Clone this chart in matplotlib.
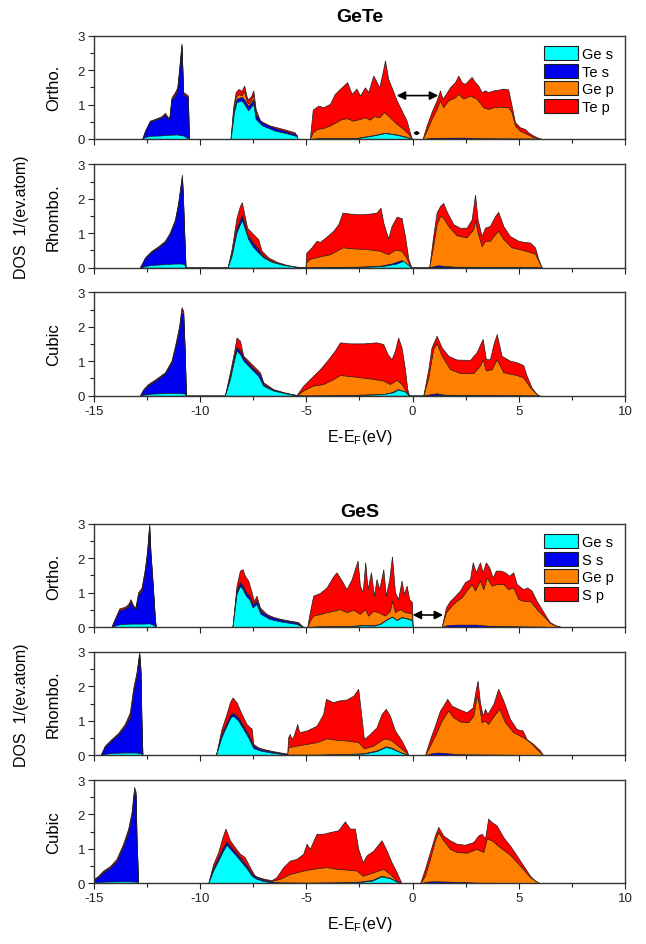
import matplotlib
matplotlib.use("Agg")
import matplotlib.pyplot as plt
import numpy as np
from matplotlib.patches import Patch
from matplotlib.ticker import MultipleLocator

plt.rcParams['font.family'] = ['Liberation Sans', 'DejaVu Sans']
plt.rcParams['mathtext.fontset'] = 'custom'
plt.rcParams['mathtext.rm'] = 'Liberation Sans'
plt.rcParams['axes.unicode_minus'] = False

# Stacked DOS: each list is (E, level) of the top edge of
# a layer, i.e. Ge s, Ge s+X s, Ge s+X s+Ge p, and the total with X p.

# ---- GeTe, orthorhombic ----
gete_ortho_ges = [(-12.73, 0), (-12.6, 0.06), (-12.37, 0.09), (-11.9, 0.1), (-11.5, 0.12), (-11.1, 0.13), (-10.8, 0.1), (-10.53, 0),
                  (-8.57, 0), (-8.41, 0.78), (-8.29, 1.07), (-8.05, 1.12), (-7.93, 1.02), (-7.74, 0.83), (-7.5, 1.02), (-7.39, 0.58),
                  (-7.08, 0.39), (-6.47, 0.24), (-5.84, 0.15), (-5.45, 0.08), (-5.42, 0),
                  (-4.84, 0), (-4.5, 0.01), (-2.64, 0.02), (-1.85, 0.1), (-1.3, 0.17), (-0.75, 0.12), (-0.28, 0.05), (-0.03, 0),
                  (0.47, 0), (1.0, 0.01), (5.5, 0.01), (6.08, 0)]
gete_ortho_tes = [(-12.73, 0), (-12.6, 0.21), (-12.37, 0.5), (-12.06, 0.57), (-11.82, 0.62), (-11.66, 0.71), (-11.55, 0.62), (-11.46, 0.55),
                  (-11.35, 1.14), (-11.19, 1.26), (-11.08, 1.4), (-10.99, 1.95), (-10.88, 2.7), (-10.8, 1.29), (-10.67, 1.24), (-10.58, 1.2), (-10.53, 0),
                  (-8.57, 0), (-8.41, 0.85), (-8.29, 1.17), (-8.05, 1.22), (-7.93, 1.15), (-7.74, 0.95), (-7.5, 1.15), (-7.39, 0.7),
                  (-7.08, 0.47), (-6.47, 0.31), (-5.84, 0.2), (-5.45, 0.12), (-5.42, 0),
                  (-4.84, 0), (-4.5, 0.02), (-2.64, 0.03), (-1.85, 0.11), (-1.3, 0.18), (-0.75, 0.13), (-0.28, 0.06), (-0.03, 0),
                  (0.47, 0), (0.9, 0.03), (2.4, 0.04), (3.1, 0.02), (5.5, 0.01), (6.08, 0)]
gete_ortho_gep = [(-12.73, 0), (-12.6, 0.22), (-12.37, 0.51), (-12.06, 0.58), (-11.82, 0.63), (-11.66, 0.72), (-11.55, 0.63), (-11.46, 0.56),
                  (-11.35, 1.17), (-11.19, 1.3), (-11.08, 1.44), (-10.99, 1.98), (-10.88, 2.72), (-10.8, 1.32), (-10.67, 1.27), (-10.58, 1.22), (-10.53, 0),
                  (-8.57, 0), (-8.45, 0.8), (-8.33, 1.22), (-8.2, 1.3), (-8.05, 1.27), (-7.93, 1.38), (-7.8, 1.08), (-7.74, 1.03),
                  (-7.6, 1.14), (-7.5, 1.28), (-7.39, 0.8), (-7.18, 0.47), (-6.72, 0.34), (-6.09, 0.24), (-5.54, 0.15), (-5.42, 0),
                  (-4.84, 0), (-4.7, 0.19), (-4.5, 0.29), (-4.21, 0.32), (-3.89, 0.39), (-3.6, 0.49), (-3.34, 0.58), (-3.08, 0.6),
                  (-2.82, 0.53), (-2.48, 0.58), (-2.24, 0.63), (-2.01, 0.56), (-1.82, 0.66), (-1.57, 0.63), (-1.35, 0.78), (-1.19, 0.7),
                  (-0.99, 0.58), (-0.75, 0.44), (-0.44, 0.29), (-0.2, 0.15), (-0.03, 0),
                  (0.47, 0), (0.66, 0.24), (0.89, 0.58), (1.13, 0.87), (1.29, 1.12), (1.44, 0.92), (1.68, 1.12), (2.0, 1.21),
                  (2.15, 1.31), (2.39, 1.17), (2.7, 1.26), (3.01, 1.17), (3.33, 0.92), (3.56, 0.87), (3.8, 0.92), (4.11, 0.94),
                  (4.5, 0.92), (4.66, 0.78), (4.82, 0.39), (5.05, 0.24), (5.37, 0.15), (5.68, 0.05), (6.08, 0)]
gete_ortho_tep = [(-12.73, 0), (-12.6, 0.24), (-12.37, 0.53), (-12.06, 0.6), (-11.82, 0.66), (-11.66, 0.76), (-11.55, 0.66), (-11.46, 0.58),
                  (-11.35, 1.21), (-11.19, 1.36), (-11.08, 1.5), (-10.99, 2.04), (-10.88, 2.77), (-10.8, 1.36), (-10.67, 1.31), (-10.58, 1.26), (-10.53, 0),
                  (-8.57, 0), (-8.45, 0.9), (-8.33, 1.36), (-8.2, 1.45), (-8.05, 1.4), (-7.93, 1.55), (-7.8, 1.2), (-7.74, 1.15),
                  (-7.6, 1.25), (-7.5, 1.41), (-7.39, 0.87), (-7.18, 0.53), (-6.72, 0.39), (-6.09, 0.29), (-5.54, 0.19), (-5.42, 0),
                  (-4.84, 0), (-4.7, 0.85), (-4.44, 0.97), (-4.21, 0.92), (-3.89, 1.02), (-3.66, 1.31), (-3.5, 1.41), (-3.34, 1.5),
                  (-3.08, 1.65), (-2.87, 1.31), (-2.64, 1.46), (-2.48, 1.26), (-2.24, 1.5), (-2.09, 1.36), (-1.85, 1.84), (-1.73, 1.7),
                  (-1.57, 1.5), (-1.41, 1.94), (-1.3, 2.28), (-1.15, 1.75), (-0.99, 1.5), (-0.75, 1.12), (-0.52, 0.83), (-0.28, 0.53),
                  (-0.13, 0.19), (-0.03, 0),
                  (0.47, 0), (0.66, 0.39), (0.89, 0.78), (1.13, 1.12), (1.29, 1.41), (1.41, 1.17), (1.57, 1.31), (1.76, 1.5),
                  (2.0, 1.65), (2.15, 1.84), (2.31, 1.65), (2.46, 1.6), (2.62, 1.7), (2.78, 1.8), (2.94, 1.65), (3.09, 1.55),
                  (3.25, 1.36), (3.41, 1.41), (3.56, 1.36), (3.8, 1.41), (4.03, 1.43), (4.27, 1.46), (4.5, 1.44), (4.66, 0.97),
                  (4.82, 0.49), (5.05, 0.34), (5.29, 0.29), (5.45, 0.19), (5.68, 0.1), (5.92, 0.03), (6.08, 0)]

# ---- GeTe, rhombohedral ----
gete_rhombo_ges = [(-12.84, 0), (-12.6, 0.05), (-12.29, 0.08), (-11.7, 0.1), (-11.2, 0.12), (-10.9, 0.12), (-10.75, 0.1), (-10.69, 0),
                   (-8.71, 0), (-8.52, 0.35), (-8.29, 1.02), (-8.13, 1.26), (-8.04, 1.38), (-7.94, 1.21), (-7.74, 0.83), (-7.5, 0.59),
                   (-7.27, 0.44), (-7.03, 0.3), (-6.64, 0.17), (-6.09, 0.08), (-5.46, 0.02), (-5.07, 0),
                   (-5.04, 0), (-4.5, 0.01), (-2.5, 0.02), (-1.38, 0.05), (-0.75, 0.12), (-0.45, 0.2), (-0.2, 0.08), (-0.05, 0),
                   (0.78, 0), (1.2, 0.01), (5.5, 0.01), (6.08, 0)]
gete_rhombo_tes = [(-12.84, 0), (-12.6, 0.27), (-12.29, 0.46), (-11.98, 0.58), (-11.66, 0.74), (-11.43, 0.97), (-11.19, 1.33), (-11.04, 1.8),
                   (-10.93, 2.3), (-10.86, 2.62), (-10.82, 2.12), (-10.75, 0.95), (-10.69, 0),
                   (-8.71, 0), (-8.52, 0.4), (-8.29, 1.12), (-8.13, 1.37), (-8.04, 1.5), (-7.94, 1.32), (-7.79, 0.95), (-7.5, 0.69),
                   (-7.27, 0.52), (-7.11, 0.37), (-6.8, 0.22), (-6.4, 0.12), (-5.93, 0.05), (-5.46, 0.01), (-5.07, 0),
                   (-5.04, 0), (-4.5, 0.01), (-2.5, 0.03), (-1.5, 0.06), (-1.0, 0.12), (-0.52, 0.22), (-0.3, 0.12), (-0.05, 0),
                   (0.78, 0), (0.97, 0.04), (1.2, 0.07), (1.5, 0.05), (2.0, 0.03), (3.5, 0.02), (5.5, 0.01), (6.08, 0)]
gete_rhombo_gep = [(-12.84, 0), (-12.6, 0.28), (-12.29, 0.47), (-11.98, 0.6), (-11.66, 0.76), (-11.43, 0.99), (-11.19, 1.36), (-11.04, 1.83),
                   (-10.93, 2.32), (-10.86, 2.65), (-10.82, 2.15), (-10.75, 0.97), (-10.69, 0),
                   (-8.71, 0), (-8.52, 0.42), (-8.29, 1.15), (-8.13, 1.4), (-8.04, 1.53), (-7.94, 1.35), (-7.79, 0.98), (-7.5, 0.72),
                   (-7.27, 0.55), (-7.11, 0.4), (-6.8, 0.25), (-6.4, 0.14), (-5.93, 0.06), (-5.46, 0.02), (-5.07, 0),
                   (-5.04, 0), (-5.02, 0.15), (-4.85, 0.25), (-4.36, 0.33), (-3.89, 0.39), (-3.3, 0.59), (-2.8, 0.56), (-2.17, 0.54),
                   (-1.54, 0.49), (-1.15, 0.39), (-0.83, 0.52), (-0.52, 0.49), (-0.31, 0.3), (-0.13, 0.06), (-0.05, 0),
                   (0.78, 0), (0.97, 0.63), (1.13, 1.26), (1.29, 1.5), (1.44, 1.45), (1.68, 1.21), (2.07, 0.94), (2.54, 0.88),
                   (2.86, 1.12), (2.94, 1.38), (3.06, 1.02), (3.25, 0.62), (3.41, 0.78), (3.64, 0.78), (3.88, 0.97), (4.03, 1.07),
                   (4.27, 0.83), (4.66, 0.59), (5.21, 0.51), (5.76, 0.41), (5.92, 0.2), (6.08, 0)]
gete_rhombo_tep = [(-12.84, 0), (-12.6, 0.3), (-12.29, 0.49), (-11.98, 0.62), (-11.66, 0.78), (-11.43, 1.02), (-11.19, 1.4), (-11.04, 1.88),
                   (-10.93, 2.37), (-10.86, 2.7), (-10.82, 2.2), (-10.75, 1.0), (-10.69, 0),
                   (-8.71, 0), (-8.52, 0.54), (-8.29, 1.45), (-8.13, 1.79), (-8.04, 1.9), (-7.94, 1.6), (-7.79, 1.16), (-7.5, 0.97),
                   (-7.27, 0.83), (-7.11, 0.49), (-6.8, 0.3), (-6.4, 0.17), (-5.93, 0.08), (-5.46, 0.03), (-5.07, 0),
                   (-5.04, 0), (-5.02, 0.4), (-4.99, 0.44), (-4.76, 0.59), (-4.52, 0.78), (-4.36, 0.75), (-4.05, 0.9), (-3.74, 1.07),
                   (-3.5, 1.26), (-3.3, 1.6), (-2.95, 1.57), (-2.48, 1.55), (-2.01, 1.57), (-1.7, 1.6), (-1.51, 1.74), (-1.38, 1.31),
                   (-1.15, 0.85), (-0.99, 1.21), (-0.75, 1.48), (-0.52, 1.44), (-0.36, 0.92), (-0.2, 0.25), (-0.05, 0),
                   (0.78, 0), (0.97, 0.92), (1.13, 1.6), (1.29, 1.79), (1.44, 1.88), (1.63, 1.6), (1.92, 1.26), (2.23, 1.16),
                   (2.54, 1.16), (2.78, 1.4), (2.94, 2.12), (3.06, 1.4), (3.25, 0.92), (3.41, 1.16), (3.64, 1.21), (3.88, 1.5),
                   (4.03, 1.62), (4.27, 1.21), (4.58, 0.92), (4.98, 0.78), (5.21, 0.75), (5.53, 0.73), (5.76, 0.59), (5.92, 0.25), (6.08, 0)]

# ---- GeTe, cubic ----
gete_cubic_ges = [(-12.84, 0), (-12.68, 0.03), (-12.3, 0.06), (-11.5, 0.08), (-10.9, 0.08), (-10.73, 0.06), (-10.67, 0),
                  (-8.84, 0), (-8.6, 0.48), (-8.41, 1.02), (-8.29, 1.31), (-8.13, 1.21), (-7.97, 1.02), (-7.66, 0.82), (-7.27, 0.58),
                  (-7.03, 0.29), (-6.56, 0.15), (-5.93, 0.06), (-5.46, 0.01), (-5.15, 0),
                  (-3.0, 0.01), (-2.0, 0.03), (-1.38, 0.05), (-0.91, 0.1), (-0.68, 0.18), (-0.36, 0.12), (-0.16, 0),
                  (0.5, 0), (1.2, 0.01), (5.5, 0.01), (5.97, 0)]
gete_cubic_tes = [(-12.84, 0), (-12.68, 0.16), (-12.45, 0.3), (-12.06, 0.46), (-11.66, 0.64), (-11.35, 0.96), (-11.15, 1.46), (-10.99, 1.9),
                  (-10.88, 2.42), (-10.8, 2.38), (-10.73, 1.3), (-10.67, 0),
                  (-8.84, 0), (-8.6, 0.53), (-8.41, 1.1), (-8.29, 1.4), (-8.13, 1.3), (-7.97, 1.1), (-7.66, 0.88), (-7.19, 0.6),
                  (-7.03, 0.33), (-6.56, 0.16), (-5.93, 0.06), (-5.46, 0.01), (-5.15, 0),
                  (-3.5, 0.01), (-2.5, 0.03), (-1.38, 0.05), (-0.99, 0.1), (-0.68, 0.19), (-0.36, 0.12), (-0.16, 0),
                  (0.5, 0), (0.9, 0.05), (1.13, 0.07), (1.5, 0.03), (3.5, 0.01), (5.97, 0)]
gete_cubic_gep = [(-12.84, 0), (-12.68, 0.17), (-12.45, 0.32), (-12.06, 0.48), (-11.66, 0.66), (-11.35, 0.99), (-11.15, 1.5), (-10.99, 1.96),
                  (-10.88, 2.5), (-10.8, 2.42), (-10.73, 1.33), (-10.67, 0),
                  (-8.84, 0), (-8.6, 0.56), (-8.41, 1.12), (-8.29, 1.42), (-8.13, 1.32), (-7.97, 1.12), (-7.66, 0.9), (-7.19, 0.62),
                  (-7.03, 0.35), (-6.56, 0.17), (-5.93, 0.07), (-5.46, 0.02),
                  (-5.15, 0.15), (-4.7, 0.29), (-4.21, 0.34), (-3.74, 0.48), (-3.42, 0.6), (-2.79, 0.56), (-2.01, 0.5), (-1.38, 0.44),
                  (-1.07, 0.34), (-0.75, 0.46), (-0.52, 0.34), (-0.28, 0.1), (-0.16, 0),
                  (0.5, 0), (0.74, 0.53), (0.97, 1.35), (1.13, 1.53), (1.37, 1.16), (1.76, 0.77), (2.23, 0.66), (2.86, 0.66),
                  (3.17, 0.87), (3.3, 1.06), (3.45, 0.73), (3.72, 0.77), (3.96, 1.06), (4.27, 0.68), (4.9, 0.6), (5.21, 0.53),
                  (5.53, 0.24), (5.84, 0.05), (5.97, 0)]
gete_cubic_tep = [(-12.84, 0), (-12.68, 0.19), (-12.45, 0.34), (-12.06, 0.5), (-11.66, 0.68), (-11.35, 1.02), (-11.15, 1.55), (-10.99, 2.03),
                  (-10.88, 2.57), (-10.8, 2.47), (-10.73, 1.36), (-10.67, 0),
                  (-8.84, 0), (-8.6, 0.68), (-8.41, 1.26), (-8.29, 1.69), (-8.13, 1.6), (-7.97, 1.16), (-7.66, 0.97), (-7.19, 0.68),
                  (-7.03, 0.39), (-6.56, 0.19), (-5.93, 0.08), (-5.46, 0.02),
                  (-5.15, 0.29), (-4.76, 0.53), (-4.36, 0.77), (-3.97, 1.06), (-3.66, 1.31), (-3.42, 1.55), (-2.95, 1.52), (-2.32, 1.52),
                  (-1.7, 1.55), (-1.38, 1.5), (-1.18, 1.21), (-0.99, 1.06), (-0.83, 1.31), (-0.68, 1.69), (-0.52, 1.4), (-0.36, 0.77),
                  (-0.25, 0.19), (-0.16, 0),
                  (0.5, 0), (0.74, 0.77), (0.89, 1.4), (1.13, 1.74), (1.37, 1.4), (1.68, 1.16), (2.07, 1.05), (2.7, 1.04),
                  (3.01, 1.26), (3.3, 1.65), (3.45, 1.06), (3.64, 1.06), (3.83, 1.55), (3.96, 1.79), (4.19, 1.16), (4.58, 1.02),
                  (4.9, 0.97), (5.21, 0.89), (5.37, 0.58), (5.6, 0.24), (5.84, 0.05), (5.97, 0)]

# ---- GeS, orthorhombic ----
ges_ortho_ges = [(-14.18, 0), (-14.03, 0.04), (-13.8, 0.08), (-13.3, 0.1), (-12.6, 0.1), (-12.4, 0.11), (-12.2, 0.06), (-12.09, 0),
                 (-8.48, 0), (-8.29, 0.96), (-8.13, 1.2), (-8.0, 1.1), (-7.85, 0.91), (-7.69, 0.81), (-7.53, 0.57), (-7.35, 0.67),
                 (-7.16, 0.38), (-6.72, 0.23), (-6.09, 0.15), (-5.46, 0.09), (-5.15, 0),
                 (-4.96, 0), (-4.5, 0.01), (-3.0, 0.02), (-2.3, 0.05), (-1.8, 0.04), (-1.5, 0.1), (-1.26, 0.2), (-0.97, 0.3),
                 (-0.75, 0.2), (-0.52, 0.28), (-0.28, 0.25), (-0.03, 0.2), (0.0, 0),
                 (1.37, 0), (2.0, 0.01), (6.0, 0.01), (7.0, 0)]
ges_ortho_ss = [(-14.18, 0), (-14.03, 0.19), (-13.81, 0.48), (-13.55, 0.53), (-13.39, 0.6), (-13.28, 0.73), (-13.16, 0.58), (-13.05, 0.51),
                (-12.92, 0.93), (-12.76, 1.06), (-12.61, 1.55), (-12.5, 2.1), (-12.4, 2.92), (-12.34, 2.1), (-12.27, 1.52), (-12.13, 0.2), (-12.09, 0),
                (-8.48, 0), (-8.29, 1.04), (-8.13, 1.28), (-8.0, 1.18), (-7.85, 0.99), (-7.69, 0.89), (-7.53, 0.65), (-7.35, 0.75),
                (-7.16, 0.46), (-6.72, 0.3), (-6.09, 0.2), (-5.46, 0.13), (-5.15, 0),
                (-4.96, 0), (-4.5, 0.02), (-3.0, 0.03), (-2.3, 0.06), (-1.8, 0.05), (-1.5, 0.11), (-1.26, 0.21), (-0.97, 0.31),
                (-0.75, 0.21), (-0.52, 0.29), (-0.28, 0.26), (-0.03, 0.21), (0.0, 0),
                (1.37, 0), (1.6, 0.05), (2.0, 0.07), (3.0, 0.07), (3.5, 0.04), (5.0, 0.02), (7.0, 0)]
ges_ortho_gep = [(-14.18, 0), (-14.03, 0.21), (-13.81, 0.5), (-13.55, 0.55), (-13.39, 0.63), (-13.28, 0.76), (-13.16, 0.6), (-13.05, 0.53),
                 (-12.92, 0.96), (-12.76, 1.1), (-12.61, 1.6), (-12.5, 2.15), (-12.4, 2.95), (-12.34, 2.12), (-12.27, 1.55), (-12.13, 0.21), (-12.09, 0),
                 (-8.48, 0), (-8.29, 1.07), (-8.13, 1.31), (-8.0, 1.21), (-7.85, 1.02), (-7.69, 0.92), (-7.53, 0.68), (-7.35, 0.78),
                 (-7.16, 0.49), (-6.72, 0.32), (-6.09, 0.22), (-5.46, 0.15), (-5.15, 0),
                 (-4.96, 0), (-4.84, 0.18), (-4.68, 0.33), (-4.36, 0.38), (-4.05, 0.43), (-3.74, 0.47), (-3.42, 0.52), (-3.11, 0.43),
                 (-2.79, 0.5), (-2.48, 0.38), (-2.25, 0.52), (-2.09, 0.33), (-1.85, 0.47), (-1.54, 0.41), (-1.3, 0.33), (-1.07, 0.47),
                 (-0.97, 0.76), (-0.83, 0.43), (-0.6, 0.52), (-0.36, 0.43), (-0.13, 0.41), (-0.03, 0.38), (0.0, 0),
                 (1.37, 0), (1.57, 0.43), (1.84, 0.62), (2.07, 0.76), (2.31, 0.86), (2.54, 1.06), (2.78, 1.25), (2.94, 1.06),
                 (3.17, 1.35), (3.33, 1.1), (3.49, 1.44), (3.72, 1.2), (3.96, 1.25), (4.27, 1.25), (4.5, 1.1), (4.74, 1.15),
                 (4.98, 0.81), (5.21, 0.76), (5.53, 0.76), (5.84, 0.52), (6.15, 0.33), (6.47, 0.12), (6.7, 0.05), (7.0, 0)]
ges_ortho_sp = [(-14.18, 0), (-14.03, 0.23), (-13.81, 0.54), (-13.55, 0.59), (-13.39, 0.67), (-13.28, 0.81), (-13.16, 0.64), (-13.05, 0.57),
                (-12.92, 1.01), (-12.76, 1.15), (-12.61, 1.68), (-12.5, 2.22), (-12.4, 3.0), (-12.34, 2.17), (-12.27, 1.59), (-12.13, 0.23), (-12.09, 0),
                (-8.48, 0), (-8.29, 1.2), (-8.13, 1.64), (-8.0, 1.68), (-7.9, 1.49), (-7.74, 1.35), (-7.58, 1.01), (-7.47, 0.76),
                (-7.35, 0.91), (-7.19, 0.57), (-6.88, 0.38), (-6.41, 0.25), (-5.78, 0.18), (-5.38, 0.14), (-5.15, 0),
                (-4.96, 0), (-4.84, 0.43), (-4.68, 0.91), (-4.36, 0.99), (-4.05, 1.15), (-3.74, 1.47), (-3.58, 1.59), (-3.34, 1.35),
                (-3.11, 1.1), (-2.87, 1.39), (-2.72, 1.68), (-2.59, 1.93), (-2.48, 1.2), (-2.35, 1.01), (-2.23, 1.88), (-2.12, 1.1),
                (-1.96, 1.59), (-1.82, 0.91), (-1.7, 1.39), (-1.57, 1.1), (-1.38, 1.68), (-1.26, 0.91), (-1.1, 1.39), (-0.97, 2.05),
                (-0.83, 1.01), (-0.68, 0.81), (-0.52, 1.35), (-0.41, 0.96), (-0.28, 1.2), (-0.16, 0.81), (-0.03, 0.72), (0.0, 0),
                (1.37, 0), (1.57, 0.57), (1.76, 0.76), (2.0, 0.91), (2.23, 1.06), (2.46, 1.3), (2.7, 1.39), (2.83, 1.88),
                (2.98, 1.59), (3.17, 1.88), (3.3, 1.59), (3.45, 1.88), (3.61, 1.73), (3.77, 1.44), (3.92, 1.64), (4.14, 1.64),
                (4.35, 1.59), (4.55, 1.49), (4.74, 1.59), (4.9, 1.25), (5.21, 1.1), (5.4, 1.15), (5.6, 1.06), (5.84, 0.76),
                (6.08, 0.52), (6.31, 0.28), (6.47, 0.14), (6.7, 0.06), (7.0, 0)]

# ---- GeS, rhombohedral ----
ges_rhombo_ges = [(-14.69, 0), (-14.49, 0.04), (-14.1, 0.07), (-13.5, 0.08), (-13.0, 0.08), (-12.77, 0.05), (-12.72, 0),
                  (-9.26, 0), (-9.0, 0.52), (-8.76, 0.86), (-8.57, 1.1), (-8.45, 1.15), (-8.21, 1.01), (-7.97, 0.76), (-7.74, 0.52),
                  (-7.5, 0.21), (-7.19, 0.14), (-6.56, 0.07), (-5.93, 0.02),
                  (-5.9, 0.01), (-4.5, 0.01), (-3.0, 0.03), (-2.29, 0.05), (-1.7, 0.12), (-1.26, 0.24), (-0.99, 0.2), (-0.6, 0.09),
                  (-0.28, 0.02), (-0.2, 0),
                  (0.58, 0), (1.2, 0.01), (6.0, 0.01), (6.15, 0)]
ges_rhombo_ss = [(-14.69, 0), (-14.49, 0.24), (-14.18, 0.43), (-13.86, 0.6), (-13.55, 0.84), (-13.31, 1.12), (-13.16, 1.78), (-13.0, 2.28),
                 (-12.87, 2.92), (-12.81, 2.42), (-12.77, 1.1), (-12.72, 0),
                 (-9.26, 0), (-9.0, 0.59), (-8.76, 0.93), (-8.57, 1.17), (-8.45, 1.22), (-8.21, 1.08), (-7.97, 0.83), (-7.74, 0.59),
                 (-7.5, 0.27), (-7.19, 0.18), (-6.56, 0.1), (-5.93, 0.04),
                 (-5.9, 0.02), (-4.5, 0.02), (-3.0, 0.04), (-2.29, 0.06), (-1.7, 0.14), (-1.26, 0.26), (-0.99, 0.22), (-0.6, 0.1),
                 (-0.28, 0.03), (-0.2, 0),
                 (0.58, 0), (0.9, 0.06), (1.2, 0.08), (1.6, 0.06), (2.2, 0.03), (4.0, 0.02), (6.15, 0)]
ges_rhombo_gep = [(-14.69, 0), (-14.49, 0.26), (-14.18, 0.45), (-13.86, 0.62), (-13.55, 0.87), (-13.31, 1.18), (-13.16, 1.85), (-13.0, 2.33),
                  (-12.87, 2.95), (-12.81, 2.45), (-12.77, 1.12), (-12.72, 0),
                  (-9.26, 0), (-9.0, 0.62), (-8.76, 0.96), (-8.57, 1.2), (-8.45, 1.25), (-8.21, 1.11), (-7.97, 0.86), (-7.74, 0.62),
                  (-7.5, 0.29), (-7.19, 0.2), (-6.56, 0.12), (-5.93, 0.05),
                  (-5.9, 0.03), (-5.86, 0.23), (-5.46, 0.28), (-4.99, 0.33), (-4.52, 0.38), (-4.05, 0.49), (-3.58, 0.45), (-3.11, 0.43),
                  (-2.56, 0.38), (-2.29, 0.2), (-1.85, 0.28), (-1.46, 0.45), (-1.26, 0.49), (-0.99, 0.43), (-0.6, 0.23), (-0.28, 0.07),
                  (-0.2, 0),
                  (0.58, 0), (0.82, 0.28), (1.13, 0.67), (1.37, 1.01), (1.57, 1.2), (1.68, 1.3), (1.92, 1.1), (2.23, 0.98),
                  (2.62, 0.96), (2.86, 1.15), (3.02, 1.74), (3.1, 1.54), (3.25, 0.96), (3.41, 1.01), (3.56, 0.91), (3.83, 1.15),
                  (4.08, 1.35), (4.35, 0.96), (4.74, 0.67), (5.21, 0.52), (5.53, 0.38), (5.84, 0.18), (6.15, 0)]
ges_rhombo_sp = [(-14.69, 0), (-14.49, 0.28), (-14.18, 0.47), (-13.86, 0.65), (-13.55, 0.91), (-13.31, 1.25), (-13.16, 1.93), (-13.0, 2.41),
                 (-12.87, 2.99), (-12.81, 2.5), (-12.77, 1.15), (-12.72, 0),
                 (-9.26, 0), (-9.0, 0.76), (-8.76, 1.2), (-8.6, 1.54), (-8.48, 1.68), (-8.29, 1.54), (-8.05, 1.2), (-7.82, 0.91),
                 (-7.66, 0.81), (-7.58, 0.78), (-7.5, 0.33), (-7.27, 0.23), (-6.88, 0.15), (-6.41, 0.09), (-5.93, 0.04),
                 (-5.9, 0.05), (-5.86, 0.52), (-5.78, 0.62), (-5.7, 0.47), (-5.6, 0.57), (-5.43, 0.91), (-5.34, 0.67), (-4.99, 0.72),
                 (-4.52, 0.86), (-4.21, 1.2), (-4.08, 1.64), (-3.74, 1.54), (-3.5, 1.59), (-3.11, 1.62), (-2.79, 1.73), (-2.56, 1.93),
                 (-2.29, 0.47), (-2.01, 0.62), (-1.7, 0.81), (-1.46, 1.2), (-1.26, 1.35), (-1.07, 1.15), (-0.83, 0.72), (-0.52, 0.43),
                 (-0.28, 0.14), (-0.2, 0),
                 (0.58, 0), (0.82, 0.47), (1.05, 0.86), (1.29, 1.3), (1.44, 1.44), (1.63, 1.64), (1.84, 1.44), (2.15, 1.35),
                 (2.54, 1.25), (2.83, 1.39), (2.98, 1.93), (3.06, 2.17), (3.17, 1.54), (3.3, 1.15), (3.41, 1.35), (3.52, 1.2),
                 (3.8, 1.49), (4.03, 1.93), (4.27, 1.59), (4.58, 1.06), (4.9, 0.76), (5.18, 0.72), (5.37, 0.47), (5.68, 0.33),
                 (6.0, 0.14), (6.15, 0)]

# ---- GeS, cubic ----
ges_cubic_ges = [(-15.2, 0), (-15.0, 0.03), (-14.5, 0.05), (-13.5, 0.06), (-13.0, 0.05), (-12.92, 0),
                 (-9.62, 0), (-9.39, 0.37), (-9.15, 0.66), (-8.92, 0.95), (-8.76, 1.12), (-8.52, 0.95), (-8.29, 0.79), (-8.05, 0.61),
                 (-7.82, 0.44), (-7.58, 0.22), (-7.35, 0.13), (-7.03, 0.07), (-6.64, 0.02),
                 (-6.25, 0.01), (-5.0, 0.01), (-3.5, 0.02), (-2.56, 0.03), (-1.9, 0.08), (-1.46, 0.2), (-1.07, 0.15), (-0.75, 0.05), (-0.52, 0),
                 (0.35, 0), (1.0, 0.01), (5.5, 0.01), (6.0, 0)]
ges_cubic_ss = [(-15.2, 0), (-15.0, 0.1), (-14.8, 0.18), (-14.57, 0.32), (-14.25, 0.45), (-13.94, 0.64), (-13.63, 1.06), (-13.39, 1.48),
                (-13.23, 1.95), (-13.11, 2.65), (-13.04, 2.55), (-13.0, 1.32), (-12.92, 0),
                (-9.62, 0), (-9.39, 0.43), (-9.15, 0.73), (-8.92, 1.03), (-8.76, 1.19), (-8.52, 1.02), (-8.29, 0.86), (-8.05, 0.67),
                (-7.82, 0.5), (-7.58, 0.27), (-7.35, 0.17), (-7.03, 0.1), (-6.64, 0.05),
                (-6.25, 0.03), (-5.0, 0.02), (-3.5, 0.03), (-2.5, 0.05), (-1.9, 0.1), (-1.46, 0.22), (-1.07, 0.16), (-0.75, 0.06), (-0.52, 0),
                (0.35, 0), (0.7, 0.05), (1.0, 0.06), (2.3, 0.04), (3.0, 0.02), (6.0, 0)]
ges_cubic_gep = [(-15.2, 0), (-15.0, 0.11), (-14.8, 0.2), (-14.57, 0.34), (-14.25, 0.47), (-13.94, 0.67), (-13.63, 1.1), (-13.39, 1.53),
                 (-13.23, 2.0), (-13.11, 2.72), (-13.04, 2.6), (-13.0, 1.35), (-12.92, 0),
                 (-9.62, 0), (-9.39, 0.46), (-9.15, 0.76), (-8.92, 1.06), (-8.76, 1.22), (-8.52, 1.05), (-8.29, 0.89), (-8.05, 0.7),
                 (-7.82, 0.52), (-7.58, 0.3), (-7.35, 0.19), (-7.03, 0.12), (-6.64, 0.07),
                 (-6.25, 0.13), (-5.78, 0.27), (-5.15, 0.37), (-4.52, 0.44), (-4.05, 0.47), (-3.58, 0.42), (-3.11, 0.4), (-2.64, 0.37),
                 (-2.35, 0.22), (-1.85, 0.32), (-1.38, 0.42), (-1.07, 0.27), (-0.75, 0.08), (-0.52, 0),
                 (0.35, 0), (0.58, 0.22), (0.82, 0.71), (1.05, 1.25), (1.21, 1.49), (1.44, 1.25), (1.76, 1.0), (2.07, 0.91),
                 (2.54, 0.89), (3.01, 1.0), (3.33, 0.91), (3.49, 1.3), (3.72, 1.25), (4.11, 1.05), (4.58, 0.83), (5.05, 0.52),
                 (5.53, 0.18), (5.84, 0.05), (6.0, 0)]
ges_cubic_sp = [(-15.2, 0), (-15.0, 0.13), (-14.8, 0.22), (-14.57, 0.37), (-14.25, 0.5), (-13.94, 0.71), (-13.63, 1.15), (-13.39, 1.59),
                (-13.23, 2.07), (-13.11, 2.8), (-13.04, 2.66), (-13.0, 1.39), (-12.92, 0),
                (-9.62, 0), (-9.39, 0.56), (-9.15, 0.91), (-8.95, 1.34), (-8.81, 1.59), (-8.6, 1.25), (-8.37, 1.05), (-8.13, 0.86),
                (-7.9, 0.76), (-7.66, 0.47), (-7.43, 0.22), (-7.11, 0.15), (-6.8, 0.11), (-6.64, 0.09),
                (-6.41, 0.18), (-6.09, 0.47), (-5.78, 0.66), (-5.46, 0.71), (-5.15, 0.86), (-4.99, 1.15), (-4.84, 1.0), (-4.52, 1.44),
                (-4.21, 1.44), (-3.89, 1.49), (-3.5, 1.54), (-3.19, 1.8), (-2.95, 1.59), (-2.72, 1.59), (-2.56, 1.0), (-2.35, 0.61),
                (-2.17, 0.81), (-1.85, 0.95), (-1.46, 1.25), (-1.22, 0.95), (-0.99, 0.61), (-0.75, 0.32), (-0.52, 0),
                (0.35, 0), (0.58, 0.42), (0.82, 0.91), (1.05, 1.39), (1.21, 1.64), (1.44, 1.39), (1.76, 1.25), (2.07, 1.15),
                (2.46, 1.12), (2.86, 1.2), (3.09, 1.39), (3.25, 1.44), (3.41, 1.3), (3.56, 1.88), (3.72, 1.78), (3.96, 1.68),
                (4.27, 1.34), (4.58, 1.1), (4.9, 0.81), (5.21, 0.52), (5.53, 0.22), (5.76, 0.08), (6.0, 0)]

# Gap arrows drawn on the orthorhombic panels: (E_start, E_end, level)
gete_gap_arrow = (-0.75, 1.21, 1.26)
gete_small_arrow = (0.02, 0.36, 0.17)
ges_gap_arrow = (0.0, 1.44, 0.35)

colors = ['#00FFFF', '#0000F0', '#FF8000', '#FF0000']
gete_labels = ['Ge s', 'Te s', 'Ge p', 'Te p']
ges_labels = ['Ge s', 'S s', 'Ge p', 'S p']
row_names = ['Ortho.', 'Rhombo.', 'Cubic']

fig = plt.figure(figsize=(6.46, 9.45), dpi=100)

left, width, height = 0.1455, 0.822, 0.1093
bottoms = [0.8519, 0.7157, 0.5802, 0.3354, 0.1997, 0.0642]


def draw_panel(ax, layers):
    # paint the total first, then each lower stacked level over it
    for pts, col in reversed(list(zip(layers, colors))):
        e, v = np.array(pts).T
        ax.fill_between(e, 0, v, facecolor=col, edgecolor='#1e1e1e', linewidth=0.5)
    ax.set_xlim(-15, 10)
    ax.set_ylim(0, 3)
    ax.xaxis.set_major_locator(MultipleLocator(5))
    ax.xaxis.set_minor_locator(MultipleLocator(2.5))
    ax.yaxis.set_major_locator(MultipleLocator(1))
    ax.yaxis.set_minor_locator(MultipleLocator(0.5))
    ax.tick_params(which='both', direction='out', top=False, right=False, labelsize=9.5, width=0.8, colors='#222222')
    ax.tick_params(which='major', length=4.5, pad=2)
    ax.tick_params(which='minor', length=3)
    for s in ax.spines.values():
        s.set_linewidth(1.0)
        s.set_color('#333333')


def gap_arrow(ax, arrow, size, lw):
    x0, x1, y = arrow
    ax.annotate('', xy=(x1, y), xytext=(x0, y),
                arrowprops=dict(arrowstyle='<|-|>,head_length=%g,head_width=%g' % (size, size * 0.5),
                                color='black', lw=lw, shrinkA=0, shrinkB=0))


panels = [gete_ortho_ges, gete_ortho_tes, gete_ortho_gep, gete_ortho_tep], \
         [gete_rhombo_ges, gete_rhombo_tes, gete_rhombo_gep, gete_rhombo_tep], \
         [gete_cubic_ges, gete_cubic_tes, gete_cubic_gep, gete_cubic_tep], \
         [ges_ortho_ges, ges_ortho_ss, ges_ortho_gep, ges_ortho_sp], \
         [ges_rhombo_ges, ges_rhombo_ss, ges_rhombo_gep, ges_rhombo_sp], \
         [ges_cubic_ges, ges_cubic_ss, ges_cubic_gep, ges_cubic_sp]

axes = []
for i, layers in enumerate(panels):
    ax = fig.add_axes([left, bottoms[i], width, height])
    draw_panel(ax, layers)
    ax.set_ylabel(row_names[i % 3], fontsize=12)
    ax.yaxis.set_label_coords(-0.062, 0.5)
    if i % 3 != 2:
        ax.tick_params(labelbottom=False)
    else:
        ax.set_xlabel(r'E-E$_{\mathrm{F}}$(eV)', fontsize=11.5)
        ax.xaxis.set_label_coords(0.5, -0.30)
    axes.append(ax)

# legends
for ax, labels in [(axes[0], gete_labels), (axes[3], ges_labels)]:
    handles = [Patch(facecolor=c, edgecolor='#1e1e1e', linewidth=0.8) for c in colors]
    ax.legend(handles, labels, loc='upper right', bbox_to_anchor=(0.978, 0.9), frameon=False,
              fontsize=10.5, handlelength=2.3, handleheight=1.1, labelspacing=0.18,
              handletextpad=0.25, borderaxespad=0, borderpad=0)

gap_arrow(axes[0], gete_gap_arrow, 0.5, 1.2)
gap_arrow(axes[0], gete_small_arrow, 0.22, 0.8)
gap_arrow(axes[3], ges_gap_arrow, 0.5, 1.2)

# titles and shared y labels
xc = left + width / 2
fig.text(xc, 1 - 18 / 945, 'GeTe', ha='center', va='center', fontsize=14, fontweight='bold')
fig.text(xc, 1 - 513 / 945, 'GeS', ha='center', va='center', fontsize=14, fontweight='bold')
fig.text(22 / 646, 1 - 217 / 945, 'DOS  1/(ev.atom)', rotation=90, ha='center', va='center', fontsize=11.5)
fig.text(22 / 646, 1 - 705 / 945, 'DOS  1/(ev.atom)', rotation=90, ha='center', va='center', fontsize=11.5)

fig.savefig('out.png', dpi=100)
